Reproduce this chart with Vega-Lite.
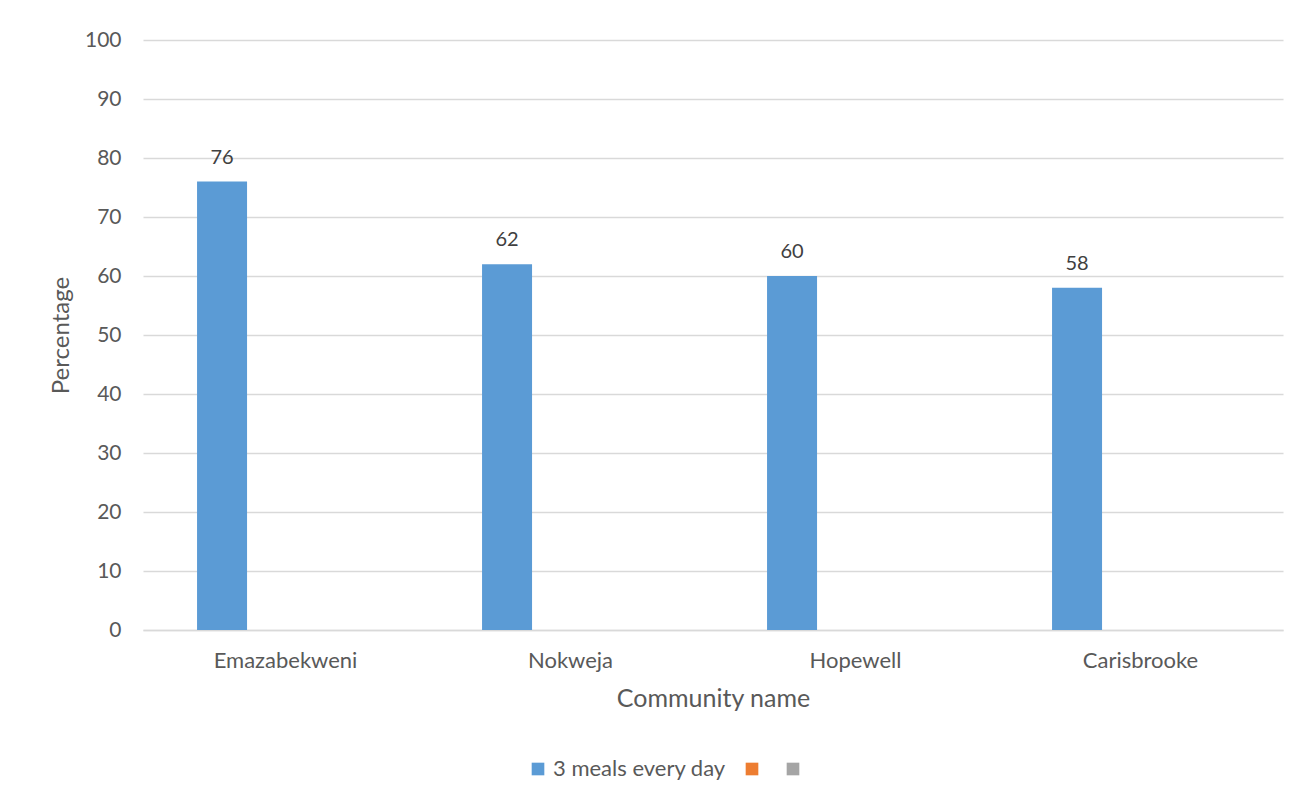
{
  "$schema": "https://vega.github.io/schema/vega-lite/v6.json",
  "autosize": {"type": "none"},
  "padding": {"left": 143, "top": 40, "right": 31, "bottom": 173},
  "width": 1140,
  "height": 590,
  "background": "white",
  "config": {
    "font": "Lato",
    "view": {"stroke": null},
    "axis": {"labelColor": "#595959", "titleColor": "#595959", "labelFontSize": 21, "titleFontSize": 24, "titleFontWeight": "normal", "gridColor": "#D9D9D9", "gridWidth": 1.3, "domainColor": "#D9D9D9", "ticks": false}
  },
  "data": {
    "values": [
      {"community": "Emazabekweni", "series": "S1", "pct": 76},
      {"community": "Nokweja", "series": "S1", "pct": 62},
      {"community": "Hopewell", "series": "S1", "pct": 60},
      {"community": "Carisbrooke", "series": "S1", "pct": 58}
    ]
  },
  "encoding": {
    "x": {
      "field": "community", "type": "nominal", "sort": null,
      "scale": {"paddingInner": 0, "paddingOuter": 0},
      "axis": {"labelAngle": 0, "labelPadding": 20, "labelFontSize": 22, "title": "Community name", "titleFontSize": 25, "titlePadding": 15, "domain": true, "domainWidth": 1.3}
    },
    "xOffset": {
      "field": "series", "type": "nominal",
      "scale": {"domain": ["S1", "S2", "S3"], "paddingInner": 0.149, "paddingOuter": 1, "align": 0.46}
    },
    "y": {
      "field": "pct", "type": "quantitative",
      "scale": {"domain": [0, 100]},
      "axis": {"values": [0, 10, 20, 30, 40, 50, 60, 70, 80, 90, 100], "title": "Percentage", "labelPadding": 22, "titlePadding": 11, "domain": false}
    }
  },
  "layer": [
    {
      "mark": {"type": "bar"},
      "encoding": {
        "color": {
          "field": "series", "type": "nominal",
          "scale": {"domain": ["S1", "S2", "S3"], "range": ["#5B9BD5", "#ED7D31", "#A5A5A5"]},
          "legend": {
            "orient": "none", "legendX": 384, "legendY": 718, "direction": "horizontal", "title": null,
            "symbolType": "square", "symbolSize": 160, "symbolStrokeWidth": 0, "symbolOpacity": 1,
            "labelFontSize": 22, "labelColor": "#595959", "labelOffset": 4, "columnPadding": 15, "labelLimit": 400,
            "labelExpr": "datum.value == 'S1' ? '3 meals every day' : ''"
          }
        }
      }
    },
    {
      "mark": {"type": "text", "dy": -24, "fontSize": 20, "color": "#404040"},
      "encoding": {"text": {"field": "pct", "type": "quantitative"}}
    }
  ]
}
